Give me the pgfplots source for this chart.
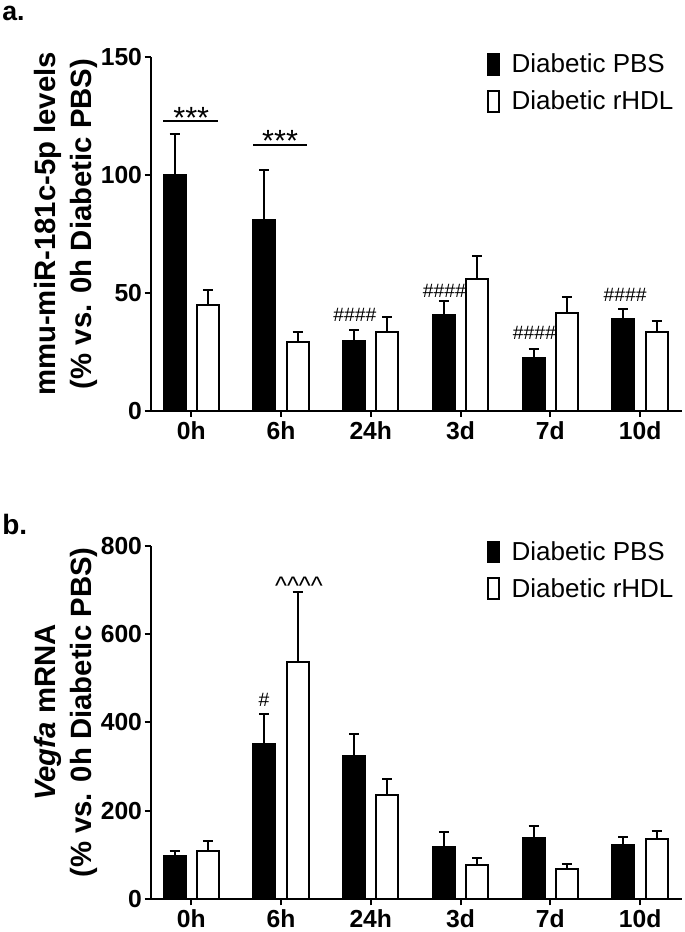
\documentclass[border=0pt]{standalone}
\usepackage{pgfplots}
\pgfplotsset{compat=1.18}
\usepackage{fontspec}
\setmainfont{Liberation Sans}
\begin{document}
\begin{tikzpicture}
\useasboundingbox (-113pt,-391pt) rectangle (400.7pt,308pt);
\pgfplotsset{
  myaxis/.style={
    scale only axis, width=398.5pt, height=265.3pt,
    xmin=-0.452, xmax=5.467,
    axis x line*=bottom, axis y line*=left,
    axis line style={line width=1.5pt, -},
    tick style={line width=1.5pt, black},
    tick align=outside, major tick length=4.5pt,
    xtick={0,...,5}, xticklabels={0h,6h,24h,3d,7d,10d},
    ybar, bar width=16.5pt,
    /pgf/number format/assume math mode=true,
    tick label style={font=\bfseries\fontsize{18.5}{20}\selectfont},
    yticklabel style={xshift=1.5pt},
    ylabel style={font=\bfseries\fontsize{22}{27}\selectfont, align=center, inner sep=0pt},
    clip=false,
    legend style={draw=none, fill=none, inner sep=0pt, outer sep=0pt, row sep=10.5pt, column sep=9pt,
      font=\fontsize{19.5}{21}\selectfont, nodes={inner sep=0pt}},
    legend cell align=left,
    legend image code/.code={\draw[#1, line width=1.3pt] (0pt,-7.9pt) rectangle (8.2pt,7.9pt);},
    every axis plot/.append style={line width=1.5pt},
    error bars/error bar style={line width=1.5pt, black},
    error bars/error mark options={rotate=90, mark size=3.75pt, line width=1.5pt, black},
  },
}
\begin{axis}[myaxis, at={(0pt,0pt)}, anchor=south west,
  ymin=0, ymax=150, ytick={0,50,100,150},
  ylabel={mmu-miR-181c-5p levels\\(\% vs. 0h Diabetic PBS)},
  ylabel style={at={(axis description cs:-0.0992,0.528)}, anchor=south},
  legend style={at={(axis description cs:0.633,1.011)}, anchor=north west}]
\addplot[fill=black, draw=black, bar shift=-12.5pt, error bars/.cd, y dir=plus, y explicit]
  table[x=x, y=y, y error=e] {
x y e
0 100 17.5
1 80.7 21.2
2 29.7 4.6
3 40.6 5.7
4 22.2 4.0
5 38.8 4.3
};
\addlegendentry{Diabetic PBS}
\addplot[fill=white, draw=black, bar shift=12.5pt, error bars/.cd, y dir=plus, y explicit]
  table[x=x, y=y, y error=e] {
x y e
0 44.9 6.2
1 29.3 4.0
2 33.5 6.4
3 55.8 9.9
4 41.4 6.8
5 33.5 4.7
};
\addlegendentry{Diabetic rHDL}
\draw[line width=1.5pt] (axis cs:-0.311,123) -- (axis cs:0.30,123);
\draw[line width=1.5pt] (axis cs:0.689,112.8) -- (axis cs:1.289,112.8);
\node[anchor=base, inner sep=0pt, font=\fontsize{23}{23}\selectfont] at (axis cs:0,119.8) {***};
\node[anchor=base, inner sep=0pt, font=\fontsize{23}{23}\selectfont] at (axis cs:0.99,109.9) {***};
\node[font=\fontsize{14.5}{15}\selectfont] at (axis cs:1.822,40.6) {\#\#\#\#};
\node[font=\fontsize{14.5}{15}\selectfont] at (axis cs:2.82,50.8) {\#\#\#\#};
\node[font=\fontsize{14.5}{15}\selectfont] at (axis cs:3.822,33) {\#\#\#\#};
\node[font=\fontsize{14.5}{15}\selectfont] at (axis cs:4.833,49.1) {\#\#\#\#};
\end{axis}
\begin{axis}[myaxis, at={(0pt,-366.45pt)}, anchor=south west,
  ymin=0, ymax=800, ytick={0,200,400,600,800},
  ylabel={\textit{Vegfa} mRNA\\(\% vs. 0h Diabetic PBS)},
  ylabel style={at={(axis description cs:-0.0992,0.528)}, anchor=south},
  legend style={at={(axis description cs:0.633,1.014)}, anchor=north west}]
\addplot[fill=black, draw=black, bar shift=-12.5pt, error bars/.cd, y dir=plus, y explicit]
  table[x=x, y=y, y error=e] {
x y e
0 97 12.4
1 351 68.6
2 324.5 49.8
3 119.2 34
4 139.6 26.4
5 123 18.9
};
\addlegendentry{Diabetic PBS}
\addplot[fill=white, draw=black, bar shift=12.5pt, error bars/.cd, y dir=plus, y explicit]
  table[x=x, y=y, y error=e] {
x y e
0 110 22
1 535.8 158.2
2 236.2 35.5
3 77.7 16.6
4 68.7 10.5
5 135.8 19.7
};
\addlegendentry{Diabetic rHDL}
\node[font=\fontsize{14.5}{15}\selectfont] at (axis cs:0.81,451) {\#};
\node[anchor=base, font=\fontsize{19}{19}\selectfont] at (axis cs:1.2,688.6) {\textasciicircum\textasciicircum\textasciicircum\textasciicircum};
\end{axis}
\node[anchor=base west, inner sep=0pt, font=\bfseries\fontsize{20}{20}\selectfont] at (-111.5pt,292.3pt) {a.};
\node[anchor=base west, inner sep=0pt, font=\bfseries\fontsize{21}{21}\selectfont] at (-111.5pt,-93.2pt) {b.};
\end{tikzpicture}
\end{document}
